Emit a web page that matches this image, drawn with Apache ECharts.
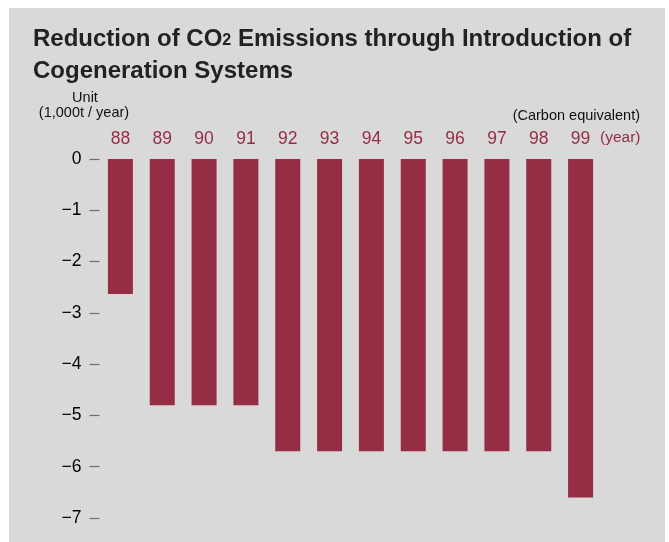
<!DOCTYPE html>
<html>
<head>
<meta charset="utf-8">
<script src="https://cdn.jsdelivr.net/npm/echarts@6/dist/echarts.min.js"></script>
<style>
  html, body { margin: 0; padding: 0; background: #ffffff; }
  #chart { width: 669px; height: 542px; }
</style>
</head>
<body>
<div id="chart"></div>
<script>
// Fiscal years (two-digit) shown along the top axis
const years = ['88', '89', '90', '91', '92', '93', '94', '95', '96', '97', '98', '99'];
// Annual CO2 reduction, 1,000 t/year (carbon equivalent)
const reduction = [-2.63, -4.8, -4.8, -4.8, -5.7, -5.7, -5.7, -5.7, -5.7, -5.7, -5.7, -6.6];
// Value axis range and step
const yMin = -7;
const yMax = 0;
const yStep = 1;

const BAR = '#952d45';
const FONT = '"Liberation Sans", Arial, Helvetica, sans-serif';

const chart = echarts.init(document.getElementById('chart'), null, { renderer: 'canvas' });

chart.setOption({
  backgroundColor: '#ffffff',
  animation: false,
  textStyle: { fontFamily: FONT },
  graphic: [
    {
      type: 'rect', z: -10, silent: true,
      shape: { x: 9, y: 8, width: 656, height: 534 },
      style: { fill: '#d9d9d9' }
    },
    {
      type: 'text', left: 33, top: 27,
      style: {
        text: '{b|Reduction of CO}{s|2}{b| Emissions through Introduction of}\n{b|Cogeneration Systems}',
        fontFamily: FONT,
        rich: {
          b: { fontSize: 24, fontWeight: 'bold', fill: '#222222', lineHeight: 32, fontFamily: FONT },
          s: { fontSize: 16, fontWeight: 'bold', fill: '#222222', lineHeight: 32, verticalAlign: 'middle', padding: [3, 0, 0, 0], fontFamily: FONT }
        }
      }
    },
    {
      type: 'text', x: 85, y: 98,
      style: { text: 'Unit', fontSize: 14.5, fill: '#111111', align: 'center', verticalAlign: 'middle', fontFamily: FONT }
    },
    {
      type: 'text', x: 84, y: 113,
      style: { text: '(1,000t / year)', fontSize: 14.5, fill: '#111111', align: 'center', verticalAlign: 'middle', fontFamily: FONT }
    },
    {
      type: 'text', x: 640, y: 116,
      style: { text: '(Carbon equivalent)', fontSize: 14.5, fill: '#111111', align: 'right', verticalAlign: 'middle', fontFamily: FONT }
    },
    {
      type: 'text', x: 600, y: 137.5,
      style: { text: '(year)', fontSize: 15.5, fill: BAR, align: 'left', verticalAlign: 'middle', fontFamily: FONT }
    }
  ],
  grid: { left: 99.5, top: 159, width: 502, height: 359 },
  xAxis: {
    type: 'category',
    position: 'top',
    data: years,
    axisLine: { show: false },
    axisTick: { show: false },
    axisLabel: { color: BAR, fontSize: 17.5, margin: 11, fontFamily: FONT }
  },
  yAxis: {
    type: 'value',
    min: yMin,
    max: yMax,
    interval: yStep,
    axisLine: { show: false },
    splitLine: { show: false },
    axisTick: { show: true, length: 10, lineStyle: { color: '#707070', width: 1.2 } },
    axisLabel: {
      color: '#000000', fontSize: 17.5, margin: 18, fontFamily: FONT,
      formatter: v => (v < 0 ? '\u2212' + Math.abs(v) : String(v))
    }
  },
  series: [{
    type: 'bar',
    data: reduction,
    barWidth: 25,
    itemStyle: { color: BAR }
  }]
});
</script>
</body>
</html>
